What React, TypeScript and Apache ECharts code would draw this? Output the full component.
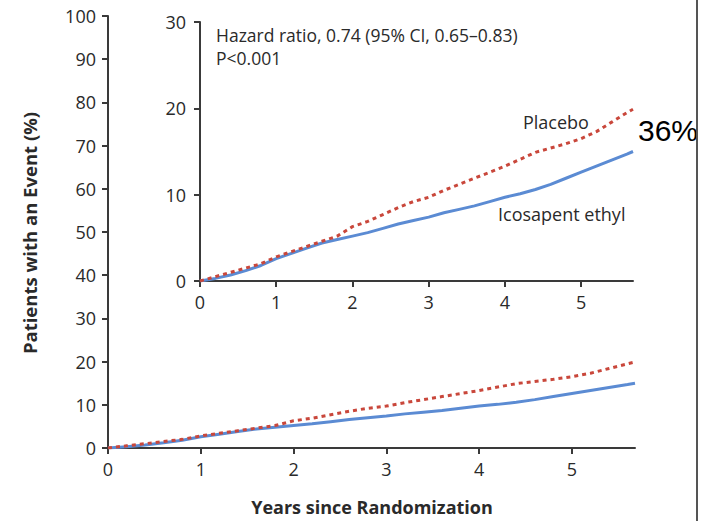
import React, { useEffect, useRef } from "react";
import * as echarts from "echarts";

const years = [0, 0.2, 0.4, 0.6, 0.8, 1.0, 1.2, 1.4, 1.6, 1.8, 2.0, 2.2, 2.4, 2.6, 2.8, 3.0, 3.2, 3.4, 3.6, 3.8, 4.0, 4.2, 4.4, 4.6, 4.8, 5.0, 5.2, 5.4, 5.6, 5.68];
const placebo = [0, 0.5, 1.0, 1.5, 2.0, 2.8, 3.4, 4.0, 4.6, 5.2, 6.3, 6.9, 7.7, 8.5, 9.2, 9.7, 10.5, 11.2, 11.9, 12.6, 13.3, 14.1, 14.9, 15.4, 15.9, 16.5, 17.3, 18.4, 19.5, 19.9];
const icosapent = [0, 0.3, 0.7, 1.2, 1.8, 2.6, 3.2, 3.8, 4.4, 4.8, 5.2, 5.6, 6.1, 6.6, 7.0, 7.4, 7.9, 8.3, 8.7, 9.2, 9.7, 10.1, 10.6, 11.2, 11.9, 12.6, 13.3, 14.0, 14.7, 15.0];
const xTicks = [0, 1, 2, 3, 4, 5];
const xMax = 5.68;
const mainYMax = 100;
const insetYMax = 30;
const hazardText = "Hazard ratio, 0.74 (95% CI, 0.65\u20130.83)";
const pText = "P<0.001";
const placeboLabel = "Placebo";
const icoLabel = "Icosapent ethyl";
const reductionLabel = "36%";
const yTitle = "Patients with an Event (%)";
const xTitle = "Years since Randomization";

const FONT = "'Open Sans', Lato, sans-serif";
const AXIS_COLOR = "#3a3a3a";
const TEXT_COLOR = "#2a2a2a";
const RED = "#c9473b";
const BLUE = "#5b8bd3";

export default function App() {
  const ref = useRef<HTMLDivElement>(null);
  useEffect(() => {
    if (!ref.current) return;
    const chart = echarts.init(ref.current, undefined, { renderer: "svg" });
    const pl = years.map((t, i) => [t, placebo[i]]);
    const ic = years.map((t, i) => [t, icosapent[i]]);
    const axisCommon = (margin: number) => ({
      axisLine: { show: true, lineStyle: { color: AXIS_COLOR, width: 2 } },
      axisTick: { show: true, length: 6, inside: false, lineStyle: { color: AXIS_COLOR, width: 2 } },
      splitLine: { show: false },
      axisLabel: { color: TEXT_COLOR, fontFamily: FONT, fontSize: 18, margin },
    });
    const xAxis = (gridIndex: number) => {
      const c: any = axisCommon(12);
      return {
        type: "value",
        gridIndex,
        min: 0,
        max: xMax,
        ...c,
        axisTick: { ...c.axisTick, customValues: xTicks },
        axisLabel: { ...c.axisLabel, customValues: xTicks },
      };
    };
    chart.setOption({
      animation: false,
      backgroundColor: "#fff",
      grid: [
        { left: 108, top: 16, width: 527, height: 432 },
        { left: 200, top: 22, width: 433, height: 259 },
      ],
      xAxis: [xAxis(0), xAxis(1)],
      yAxis: [
        { type: "value", gridIndex: 0, min: 0, max: mainYMax, interval: 10, ...axisCommon(12) },
        { type: "value", gridIndex: 1, min: 0, max: insetYMax, interval: 10, ...axisCommon(14) },
      ],
      series: [
        { type: "line", xAxisIndex: 0, yAxisIndex: 0, data: ic, showSymbol: false, lineStyle: { color: BLUE, width: 3 }, z: 2 },
        { type: "line", xAxisIndex: 0, yAxisIndex: 0, data: pl, showSymbol: false, lineStyle: { color: RED, width: 3, type: [4, 4] }, z: 3 },
        { type: "line", xAxisIndex: 1, yAxisIndex: 1, data: ic, showSymbol: false, lineStyle: { color: BLUE, width: 3 }, z: 2 },
        { type: "line", xAxisIndex: 1, yAxisIndex: 1, data: pl, showSymbol: false, lineStyle: { color: RED, width: 3, type: [4, 4] }, z: 3 },
      ],
      graphic: [
        { type: "text", x: 216, y: 35, style: { text: hazardText, fill: TEXT_COLOR, font: `17.5px ${FONT}`, verticalAlign: "middle" } },
        { type: "text", x: 216, y: 58, style: { text: pText, fill: TEXT_COLOR, font: `17.5px ${FONT}`, verticalAlign: "middle" } },
        { type: "text", x: 523, y: 122, style: { text: placeboLabel, fill: TEXT_COLOR, font: `18px ${FONT}`, verticalAlign: "middle" } },
        { type: "text", x: 498, y: 214, style: { text: icoLabel, fill: TEXT_COLOR, font: `18px ${FONT}`, verticalAlign: "middle" } },
        { type: "text", x: 638, y: 130, style: { text: reductionLabel, fill: "#000", font: `30px 'Liberation Sans', Arial, sans-serif`, verticalAlign: "middle" } },
        {
          type: "text",
          x: 29,
          y: 233,
          rotation: Math.PI / 2,
          style: { text: yTitle, fill: TEXT_COLOR, font: `bold 18.5px ${FONT}`, align: "center", verticalAlign: "middle" },
        },
        {
          type: "text",
          x: 372,
          y: 507,
          style: { text: xTitle, fill: TEXT_COLOR, font: `bold 18px ${FONT}`, align: "center", verticalAlign: "middle" },
        },
        { type: "line", shape: { x1: 697, y1: 0, x2: 697, y2: 521 }, style: { stroke: "#555", lineWidth: 2 } },
      ],
    });
    return () => chart.dispose();
  }, []);
  return <div ref={ref} style={{ position: "fixed", left: 0, top: 0, width: 712, height: 521 }} />;
}
